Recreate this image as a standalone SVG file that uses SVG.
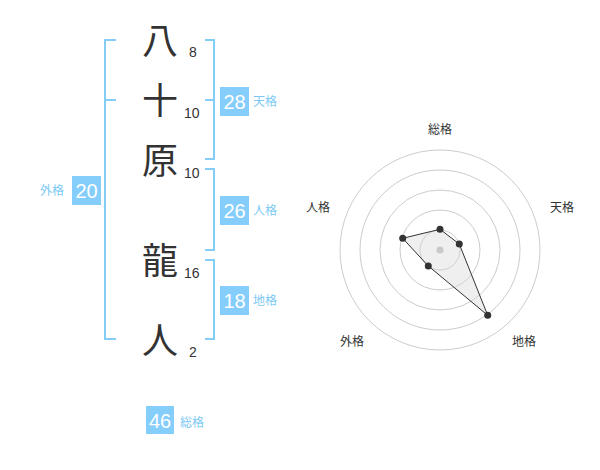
<svg xmlns="http://www.w3.org/2000/svg" width="600" height="470" viewBox="0 0 600 470">
<style>
.ch{font-family:"Noto Sans CJK JP","Noto Sans CJK SC",sans-serif;font-size:36px;fill:#333;text-anchor:middle}
.num{font-family:"Liberation Sans",Arial,sans-serif;font-size:14px;fill:#333}
.br{fill:none;stroke:#84cdf7;stroke-width:2}
.box{fill:#85cdfb}
.bn{font-family:"Liberation Sans",Arial,sans-serif;font-size:20px;fill:#fff;text-anchor:middle}
.bl{font-family:"Noto Sans CJK JP","Noto Sans CJK SC",sans-serif;font-size:12px;fill:#7cc9f4}
.ring{fill:none;stroke:#ccc;stroke-width:1}
.rl{font-family:"Noto Sans CJK JP","Noto Sans CJK SC",sans-serif;font-size:12px;fill:#333;text-anchor:middle}
.dot{fill:#333}
</style>
<g id="names">
<g id="c1"><text class="ch" x="160" y="54">八</text><text class="num" x="189" y="57">8</text></g>
<g id="c2"><text class="ch" x="160" y="114">十</text><text class="num" x="184" y="118">10</text></g>
<g id="c3"><text class="ch" x="160" y="174">原</text><text class="num" x="184" y="178">10</text></g>
<g id="c4"><text class="ch" x="160" y="274">龍</text><text class="num" x="184" y="278">16</text></g>
<g id="c5"><text class="ch" x="160" y="354">人</text><text class="num" x="189" y="357">2</text></g>
</g>
<g id="connectors">
<path class="br" d="M116 40H105V339H116M105 100H116"/>
<path class="br" d="M205 40H214V159H205M214 100H205"/>
<path class="br" d="M205 169H214V250H205"/>
<path class="br" d="M205 260H214V339H205"/>
</g>
<g id="gaikaku"><rect class="box" x="72" y="176" width="29" height="29"/><text class="bn" x="86.5" y="198">20</text><text class="bl" x="40" y="195">外格</text></g>
<g id="tenkaku"><rect class="box" x="220" y="87" width="29" height="29"/><text class="bn" x="234.5" y="109">28</text><text class="bl" x="253" y="106">天格</text></g>
<g id="jinkaku"><rect class="box" x="220" y="196" width="29" height="29"/><text class="bn" x="234.5" y="218">26</text><text class="bl" x="253" y="215">人格</text></g>
<g id="chikaku"><rect class="box" x="220" y="286" width="29" height="29"/><text class="bn" x="234.5" y="308">18</text><text class="bl" x="253" y="305">地格</text></g>
<g id="soukaku"><rect class="box" x="146" y="406" width="28" height="28"/><text class="bn" x="160" y="427.5">46</text><text class="bl" x="180" y="427">総格</text></g>
<g id="radar">
<circle class="ring" cx="440" cy="250" r="20"/>
<circle class="ring" cx="440" cy="250" r="40"/>
<circle class="ring" cx="440" cy="250" r="60"/>
<circle class="ring" cx="440" cy="250" r="80"/>
<circle class="ring" cx="440" cy="250" r="100"/>
<polygon points="440,229.3 459.3,244 487.7,315.3 428.3,266 402.7,238.3" fill="#d8d8d8" fill-opacity="0.4" stroke="#333" stroke-width="1"/>
<circle cx="440" cy="250" r="3.5" fill="#c8c8c8"/>
<circle class="dot" cx="440" cy="229.3" r="3.5"/>
<circle class="dot" cx="459.3" cy="244" r="3.5"/>
<circle class="dot" cx="487.7" cy="315.3" r="3.5"/>
<circle class="dot" cx="428.3" cy="266" r="3.5"/>
<circle class="dot" cx="402.7" cy="238.3" r="3.5"/>
<text class="rl" x="440" y="134">総格</text>
<text class="rl" x="562" y="212">天格</text>
<text class="rl" x="318" y="212">人格</text>
<text class="rl" x="352" y="346">外格</text>
<text class="rl" x="524" y="346">地格</text>
</g>
</svg>
